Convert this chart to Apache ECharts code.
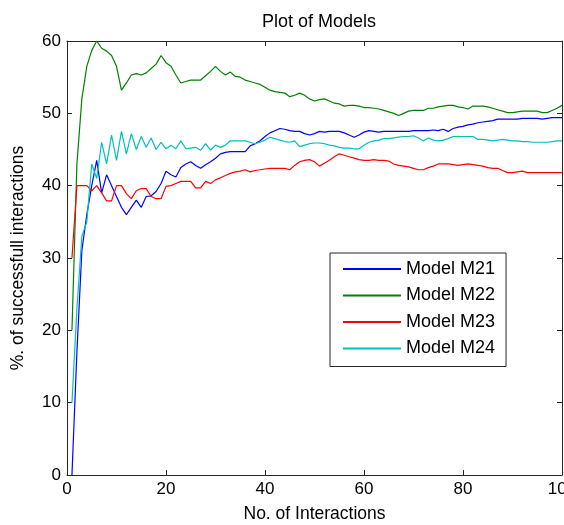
<!DOCTYPE html>
<html>
<head>
<meta charset="utf-8">
<script src="https://cdn.jsdelivr.net/npm/echarts@6/dist/echarts.min.js"></script>
<style>
html, body { margin: 0; padding: 0; background: #fff; }
#chart { width: 564px; height: 525px; }
</style>
</head>
<body>
<div id="chart"></div>
<script>
// values, one per interaction (1..100)
var modelNames = ['Model M21', 'Model M22', 'Model M23', 'Model M24'];
var modelColors = ['#0000ff', '#008000', '#ff0000', '#00bfbf'];
var xTicks = [0, 20, 40, 60, 80, 100];
var yTicks = [0, 10, 20, 30, 40, 50, 60];

var m21 = [0, 17, 31, 36, 40, 43.5, 39, 41.5, 40, 38.5,
    37, 36, 37, 38, 37, 38.5, 38.6, 39.2, 40.3, 42,
    41.5, 41.2, 42.5, 43, 43.3, 42.8, 42.4, 42.9, 43.3, 43.8,
    44.4, 44.6, 44.7, 44.7, 44.7, 44.7, 45.5, 45.8, 46.2, 46.8,
    47.3, 47.6, 47.9, 47.8, 47.6, 47.5, 47.5, 47.2, 47, 47.2,
    47.5, 47.4, 47.5, 47.5, 47.5, 47.3, 47, 46.7, 47, 47.4,
    47.6, 47.5, 47.4, 47.5, 47.5, 47.5, 47.5, 47.5, 47.5, 47.6,
    47.6, 47.6, 47.6, 47.7, 47.6, 47.8, 47.5, 47.9, 48.1, 48.2,
    48.4, 48.5, 48.7, 48.8, 48.9, 49, 49.2, 49.2, 49.2, 49.2,
    49.2, 49.3, 49.3, 49.3, 49.3, 49.2, 49.3, 49.4, 49.4, 49.4];

var m22 = [20, 43, 52, 56.5, 58.7, 60, 59, 58.6, 58, 56.5,
    53.2, 54.2, 55.3, 55.5, 55.3, 55.6, 56.2, 56.8, 58, 57,
    56.5, 55.3, 54.2, 54.4, 54.6, 54.6, 54.6, 55.2, 55.8, 56.5,
    55.8, 55.3, 55.7, 55.1, 55, 54.6, 54.4, 54.2, 54, 53.6,
    53.2, 53, 52.9, 52.8, 52.3, 52.5, 52.8, 52.5, 52, 51.7,
    51.9, 52, 51.7, 51.4, 51.3, 51, 51.1, 51.1, 51, 50.8,
    50.8, 50.7, 50.6, 50.4, 50.2, 50, 49.7, 50, 50.3, 50.4,
    50.4, 50.4, 50.7, 50.7, 50.9, 51, 51.1, 51.1, 50.9, 50.8,
    50.6, 51, 51, 51, 50.9, 50.7, 50.5, 50.3, 50.1, 50.1,
    50.2, 50.3, 50.3, 50.3, 50.3, 50.1, 50.1, 50.4, 50.7, 51.1];

var m23 = [30, 40, 40, 40, 39.3, 40, 39, 37.9, 37.9, 40,
    40, 38.9, 38.2, 39.3, 39.6, 39.6, 38.5, 38.2, 38.2, 39.9,
    40, 40.3, 40.6, 40.6, 40.6, 39.7, 39.7, 40.6, 40.3, 40.8,
    41.1, 41.4, 41.7, 41.9, 42, 42.2, 41.9, 42.1, 42.2, 42.3,
    42.4, 42.4, 42.4, 42.4, 42.2, 42.8, 43.3, 43.5, 43.6, 43.3,
    42.7, 43.1, 43.5, 44, 44.4, 44.2, 44, 43.8, 43.6, 43.5,
    43.5, 43.6, 43.5, 43.5, 43.4, 43, 42.8, 42.7, 42.6, 42.4,
    42.2, 42.2, 42.5, 42.7, 43, 43, 43, 42.9, 42.8, 42.9,
    43, 42.9, 42.8, 42.7, 42.5, 42.4, 42.4, 42.1, 41.8, 41.8,
    41.9, 42, 41.8, 41.8, 41.8, 41.8, 41.8, 41.8, 41.8, 41.8];

var m24 = [10, 23, 33, 35, 43, 41, 46, 43, 47, 43.5,
    47.5, 44.4, 47.2, 45, 46.8, 45.3, 46.6, 45, 46, 45.1,
    45.6, 45.1, 46.2, 45.1, 45.2, 45.3, 44.9, 45.8, 44.9, 45.6,
    45.3, 45.6, 46.2, 46.2, 46.2, 46.2, 46, 45.8, 46, 46.3,
    46.7, 46.5, 46.3, 46.1, 46, 46.2, 45.4, 45.6, 45.8, 45.9,
    45.9, 45.8, 45.6, 45.5, 45.3, 45.2, 45.2, 45.1, 45.1, 45.6,
    46, 46.2, 46.3, 46.5, 46.5, 46.6, 46.7, 46.8, 46.8, 46.9,
    46.6, 46.2, 46.6, 46.3, 46.2, 46.3, 46.5, 46.8, 46.8, 46.8,
    46.8, 46.8, 46.4, 46.4, 46.3, 46.2, 46.3, 46.4, 46.3, 46.2,
    46.2, 46.1, 46.1, 46, 46, 46, 46, 46.1, 46.2, 46.2];

var modelValues = [m21, m22, m23, m24];

var font = 'Liberation Sans, Arial, sans-serif';
var axisColor = '#262626';

// pair each value with its interaction number
function toPoints(values) {
    var pts = [];
    for (var i = 0; i < values.length; i++) {
        pts.push([i + 1, values[i]]);
    }
    return pts;
}

function makeAxis(min, max, interval, pos, showLabel) {
    return {
        type: 'value',
        position: pos,
        min: min,
        max: max,
        interval: interval,
        axisLine: { show: true, onZero: false, lineStyle: { color: axisColor, width: 1 } },
        axisTick: { show: true, inside: true, length: 5, lineStyle: { color: axisColor } },
        axisLabel: {
            show: showLabel,
            color: '#000',
            fontFamily: font,
            fontSize: 17,
            margin: 6,
            hideOverlap: false
        },
        splitLine: { show: false }
    };
}

var xBottom = makeAxis(xTicks[0], xTicks[xTicks.length - 1], 20, 'bottom', true);
xBottom.name = 'No. of Interactions';
xBottom.nameLocation = 'middle';
xBottom.nameGap = 30;
xBottom.nameTextStyle = { color: '#000', fontFamily: font, fontSize: 17.5 };

var yLeft = makeAxis(yTicks[0], yTicks[yTicks.length - 1], 10, 'left', true);
yLeft.name = '%. of successfull interactions';
yLeft.nameLocation = 'middle';
yLeft.nameGap = 40;
yLeft.nameTextStyle = { color: '#000', fontFamily: font, fontSize: 17.5 };

var series = [];
for (var s = 0; s < modelNames.length; s++) {
    series.push({
        name: modelNames[s],
        type: 'line',
        symbol: 'none',
        animation: false,
        lineStyle: { color: modelColors[s], width: 1.2 },
        itemStyle: { color: modelColors[s] },
        data: toPoints(modelValues[s])
    });
}

var chart = echarts.init(document.getElementById('chart'));
chart.setOption({
    backgroundColor: '#fff',
    animation: false,
    title: {
        text: 'Plot of Models',
        left: 314,
        textAlign: 'center',
        top: 8,
        textStyle: { color: '#000', fontFamily: font, fontSize: 18, fontWeight: 'normal' }
    },
    grid: { left: 67, right: 2, top: 41, bottom: 50, outerBoundsMode: 'none', containLabel: false },
    legend: {
        orient: 'vertical',
        left: 330,
        top: 253,
        data: modelNames,
        itemWidth: 58,
        itemHeight: 14,
        itemGap: 8.5,
        padding: [7, 11, 9, 12],
        backgroundColor: '#fff',
        borderColor: axisColor,
        borderWidth: 1,
        borderRadius: 0,
        itemStyle: { opacity: 0 },
        textStyle: { color: '#000', fontFamily: font, fontSize: 18 }
    },
    xAxis: [xBottom, makeAxis(0, 100, 20, 'top', false)],
    yAxis: [yLeft, makeAxis(0, 60, 10, 'right', false)],
    series: series
});
</script>
</body>
</html>
